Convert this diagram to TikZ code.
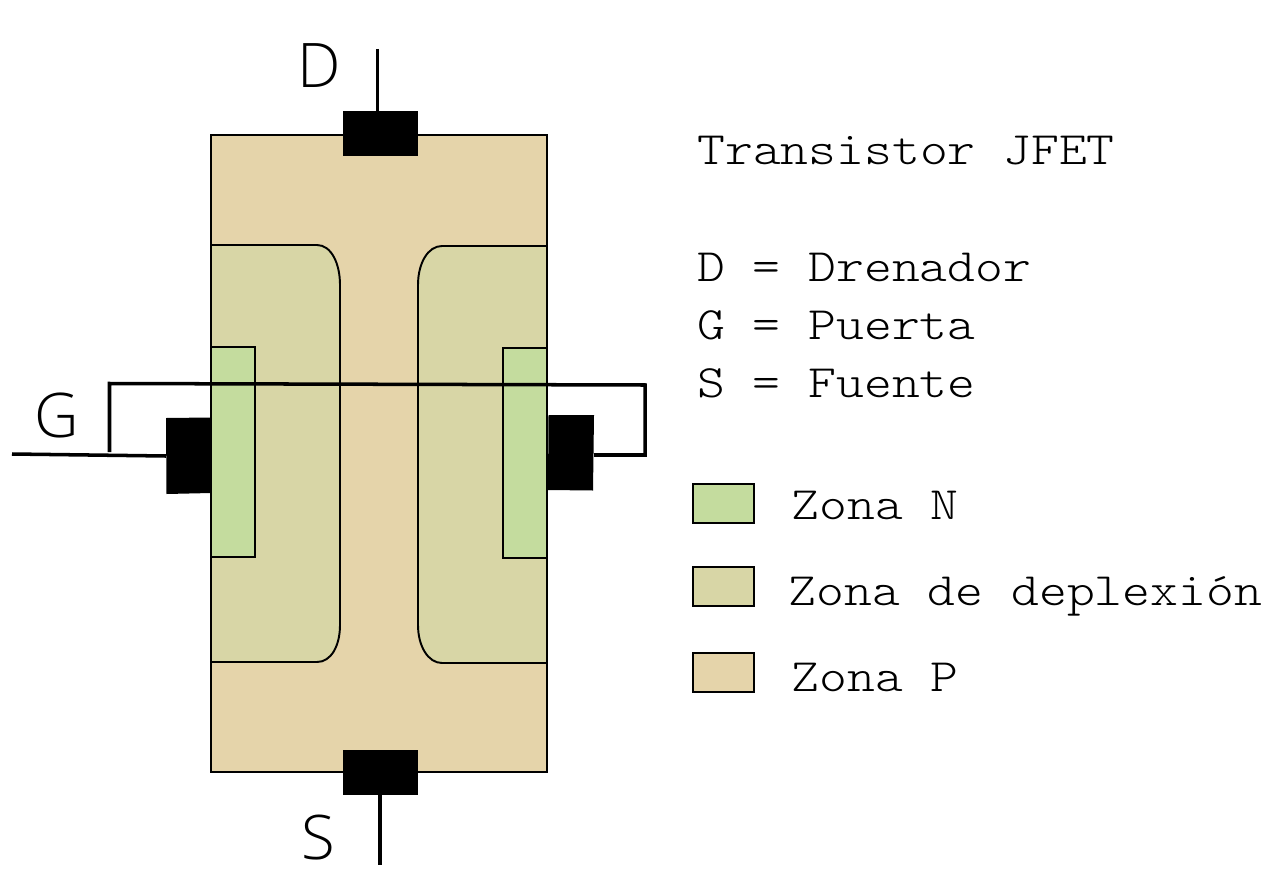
\documentclass[tikz,border=0pt]{standalone}
\usepackage{fontspec}
\setmainfont{Latin Modern Mono Light}[FakeStretch=1.143]
\newfontfamily\pinfont{Open Sans Light}
\definecolor{zonaP}{HTML}{E5D4AA}
\definecolor{zonaD}{HTML}{D8D6A6}
\definecolor{zonaN}{HTML}{C4DC9E}
\tikzset{
  wire/.style={line width=2pt},
  thin edge/.style={line width=1.1pt},
  contact/.style={fill=black,draw=none},
  txt/.style={anchor=base west,inner sep=0pt,font=\fontsize{26.4}{30}\selectfont},
  pin/.style={anchor=base west,inner sep=0pt,font=\fontsize{35}{40}\pinfont},
}
\begin{document}
\begin{tikzpicture}[x=0.02cm,y=-0.02cm]
\useasboundingbox (0,0) rectangle (1280,892);
\path
(377.5,49) coordinate (Dend)
(377.5,111) coordinate (Dtop)
(380,795) coordinate (Sbot)
(380,865) coordinate (Send)
(12,454) coordinate (Gend)
(166,456) coordinate (Gin)
(109.5,452) coordinate (Lstart)
(109.5,383.5) coordinate (La)
(645,385) coordinate (Lb)
(645,455) coordinate (Lc)
(594,455) coordinate (Gout);
% cuerpo
\draw[thin edge,fill=zonaP] (211,135) rectangle (547,772);
% zonas de deplexion
\draw[thin edge,fill=zonaD] (211,245) -- (317,245) .. controls (331,245) and (340,263) .. (340,285)
  -- (340,625) .. controls (340,646) and (331,662) .. (317,662) -- (211,662) -- cycle;
\draw[thin edge,fill=zonaD] (547,246) -- (442,246) .. controls (428,246) and (418,263) .. (418,285)
  -- (418,625) .. controls (418,646) and (428,663) .. (442,663) -- (547,663) -- cycle;
% zonas N
\draw[thin edge,fill=zonaN] (211,347) rectangle (255,557);
\draw[thin edge,fill=zonaN] (503,348) rectangle (547,558);
% contactos
\fill[contact] (343,111) rectangle (418,156);
\fill[contact] (343,750) rectangle (418,795);
\fill[contact] (166,418) -- (211,417.5) -- (211,493) -- (166.5,494) -- cycle;
\fill[contact] (548.5,415) -- (594,415) -- (593,490.5) -- (548,490) -- cycle;
% hilos
\draw[wire] (Dend) -- (Dtop);
\draw[wire] (Sbot) -- (Send);
\draw[wire] (Gend) -- (Gin);
\draw[wire] (Lstart) -- (La) -- (Lb) -- (Lc) -- (Gout);
% etiquetas
\node[pin] (D) at (297,88) {D};
\node[pin] (G) at (34,437) {G};
\node[pin] (S) at (301,859) {S};
\node[txt] (title) at (697,164) {Transistor JFET};
\node[txt] (ld) at (697,281) {D = Drenador};
\node[txt] (lg) at (697,339) {G = Puerta};
\node[txt] (ls) at (697,397) {S = Fuente};
% leyenda
\draw[thin edge,fill=zonaN] (693,484) rectangle (754,523);
\draw[thin edge,fill=zonaD] (693,567) rectangle (754,606);
\draw[thin edge,fill=zonaP] (693,653) rectangle (754,692);
\node[txt] (zn) at (791.5,519) {Zona N};
\node[txt] (zd) at (788.5,605) {Zona de deplexión};
\node[txt] (zp) at (791.5,691) {Zona P};
\end{tikzpicture}
\end{document}
